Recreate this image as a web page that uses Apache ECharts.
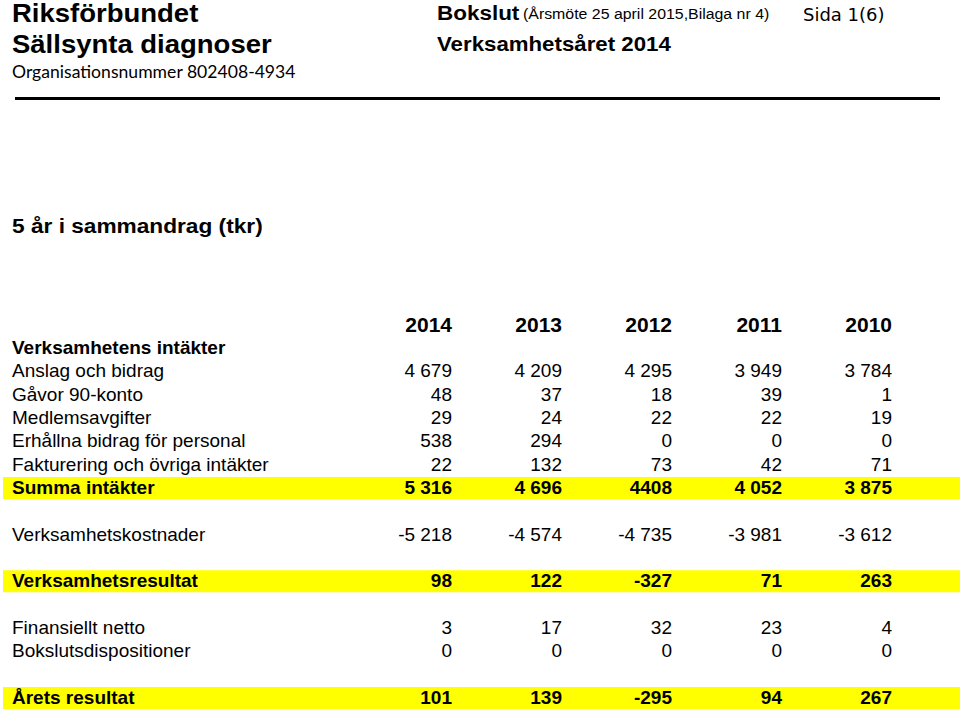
<!DOCTYPE html>
<html>
<head>
<meta charset="utf-8">
<script src="https://cdn.jsdelivr.net/npm/echarts@6/dist/echarts.min.js"></script>
<style>
html,body{margin:0;padding:0;background:#fff;}
#chart{width:960px;height:710px;}
</style>
</head>
<body>
<div id="chart"></div>
<script>
// ---- data (tkr) ----
const years = ['2014', '2013', '2012', '2011', '2010'];
const rowLabels = [
  'Verksamhetens intäkter',
  'Anslag och bidrag',
  'Gåvor 90-konto',
  'Medlemsavgifter',
  'Erhållna bidrag för personal',
  'Fakturering och övriga intäkter',
  'Summa intäkter',
  ' ',
  'Verksamhetskostnader',
  '  ',
  'Verksamhetsresultat',
  '   ',
  'Finansiellt netto',
  'Bokslutsdispositioner',
  '    ',
  'Årets resultat'
];
const boldRows = ['Verksamhetens intäkter', 'Summa intäkter', 'Verksamhetsresultat', 'Årets resultat'];
const highlightRows = ['Summa intäkter', 'Verksamhetsresultat', 'Årets resultat'];

const anslagOchBidrag       = [4679, 4209, 4295, 3949, 3784];
const gavor90Konto          = [48, 37, 18, 39, 1];
const medlemsavgifter       = [29, 24, 22, 22, 19];
const erhallnaBidrag        = [538, 294, 0, 0, 0];
const fakturering           = [22, 132, 73, 42, 71];
const summaIntakter         = [5316, 4696, 4408, 4052, 3875];
const verksamhetskostnader  = [-5218, -4574, -4735, -3981, -3612];
const verksamhetsresultat   = [98, 122, -327, 71, 263];
const finansielltNetto      = [3, 17, 32, 23, 4];
const bokslutsdispositioner = [0, 0, 0, 0, 0];
const aretsResultat         = [101, 139, -295, 94, 267];

// printed without thousands separator in the original
const unseparatedCells = [['Summa intäkter', '2012']];

const valueRows = [
  ['Anslag och bidrag', anslagOchBidrag],
  ['Gåvor 90-konto', gavor90Konto],
  ['Medlemsavgifter', medlemsavgifter],
  ['Erhållna bidrag för personal', erhallnaBidrag],
  ['Fakturering och övriga intäkter', fakturering],
  ['Summa intäkter', summaIntakter],
  ['Verksamhetskostnader', verksamhetskostnader],
  ['Verksamhetsresultat', verksamhetsresultat],
  ['Finansiellt netto', finansielltNetto],
  ['Bokslutsdispositioner', bokslutsdispositioner],
  ['Årets resultat', aretsResultat]
];

function fmt(v, plain) {
  const neg = v < 0;
  let s = String(Math.abs(v));
  if (!plain) s = s.replace(/\B(?=(\d{3})+(?!\d))/g, '\u00a0');
  return (neg ? '-' : '') + s;
}

const cells = [];
const cellMeta = [];
valueRows.forEach(([row, vals]) => {
  vals.forEach((v, i) => {
    cells.push([years[i], row, v]);
    const plain = unseparatedCells.some(c => c[0] === row && c[1] === years[i]);
    cellMeta.push({ text: fmt(v, plain), bold: boldRows.includes(row) });
  });
});

const FONT = "'Liberation Sans', Arial, Helvetica, sans-serif";

const chart = echarts.init(document.getElementById('chart'), null, { renderer: 'svg' });

chart.setOption({
  backgroundColor: '#ffffff',
  animation: false,
  grid: { left: 397, width: 550, top: 336, height: 373, containLabel: false },
  xAxis: {
    type: 'category',
    position: 'top',
    z: 10,
    data: years,
    axisLine: { show: false },
    axisTick: { show: false },
    splitLine: { show: false },
    axisLabel: {
      interval: 0,
      align: 'right',
      verticalAlign: 'middle',
      margin: 12,
      fontFamily: FONT,
      fontWeight: 'bold',
      fontSize: 21,
      color: '#000'
    }
  },
  yAxis: {
    type: 'category',
    inverse: true,
    z: 10,
    data: rowLabels,
    axisLine: { show: false },
    axisTick: { show: false },
    splitLine: { show: false },
    axisLabel: {
      interval: 0,
      align: 'left',
      margin: 385,
      fontFamily: FONT,
      fontSize: 19,
      color: '#000',
      formatter: v => boldRows.includes(v) ? '{b|' + v + '}' : v,
      rich: {
        b: { fontFamily: FONT, fontSize: 19, fontWeight: 'bold', color: '#000' }
      }
    }
  },
  series: [
    {
      type: 'custom',
      name: 'highlight',
      z: 0,
      silent: true,
      clip: false,
      data: highlightRows.map(r => [years[0], r]),
      encode: { x: 0, y: 1 },
      renderItem: function (params, api) {
        const c = api.coord([api.value(0), api.value(1)]);
        const h = api.size([1, 1])[1];
        return {
          type: 'rect',
          shape: { x: 3, y: c[1] - h / 2 + 1.2, width: api.getWidth() - 3, height: h - 1.3 },
          style: { fill: '#ffff00' }
        };
      }
    },
    {
      type: 'custom',
      name: 'values',
      z: 3,
      silent: true,
      clip: false,
      dimensions: ['year', 'row', 'value'],
      data: cells,
      encode: { x: 0, y: 1 },
      renderItem: function (params, api) {
        const c = api.coord([api.value(0), api.value(1)]);
        const m = cellMeta[params.dataIndex];
        return {
          type: 'text',
          x: c[0],
          y: c[1],
          style: {
            text: m.text,
            align: 'right',
            verticalAlign: 'middle',
            fontFamily: FONT,
            fontSize: 19,
            fontWeight: m.bold ? 'bold' : 'normal',
            fill: '#000'
          }
        };
      }
    }
  ],
  graphic: [
    { type: 'text', x: 12, y: 13, scaleX: 1.1, style: { text: 'Riksförbundet', fontFamily: FONT, fontWeight: 'bold', fontSize: 25, fill: '#000', verticalAlign: 'middle' } },
    { type: 'text', x: 12, y: 44, scaleX: 1.1, style: { text: 'Sällsynta diagnoser', fontFamily: FONT, fontWeight: 'bold', fontSize: 25, fill: '#000', verticalAlign: 'middle' } },
    { type: 'text', x: 12, y: 72, scaleX: 1.035, style: { text: 'Organisationsnummer 802408-4934', fontFamily: "Lato, 'Open Sans', sans-serif", fontSize: 17, fill: '#000', verticalAlign: 'middle' } },
    { type: 'text', x: 437, y: 13, scaleX: 1.07, style: { text: 'Bokslut', fontFamily: FONT, fontWeight: 'bold', fontSize: 21, fill: '#000', verticalAlign: 'middle' } },
    { type: 'text', x: 523, y: 14, scaleX: 1.06, style: { text: '(Årsmöte 25 april 2015,Bilaga nr 4)', fontFamily: FONT, fontSize: 15, fill: '#000', verticalAlign: 'middle' } },
    { type: 'text', x: 803, y: 14.5, style: { text: 'Sida 1(6)', fontFamily: "'DejaVu Sans', Verdana, sans-serif", fontSize: 18, fill: '#000', verticalAlign: 'middle' } },
    { type: 'text', x: 437, y: 44, scaleX: 1.06, style: { text: 'Verksamhetsåret 2014', fontFamily: FONT, fontWeight: 'bold', fontSize: 21, fill: '#000', verticalAlign: 'middle' } },
    { type: 'line', shape: { x1: 15, y1: 98.5, x2: 940, y2: 98.5 }, style: { stroke: '#000', lineWidth: 3 } },
    { type: 'text', x: 12, y: 226, scaleX: 1.08, style: { text: '5 år i sammandrag (tkr)', fontFamily: FONT, fontWeight: 'bold', fontSize: 21, fill: '#000', verticalAlign: 'middle' } }
  ]
});
</script>
</body>
</html>
